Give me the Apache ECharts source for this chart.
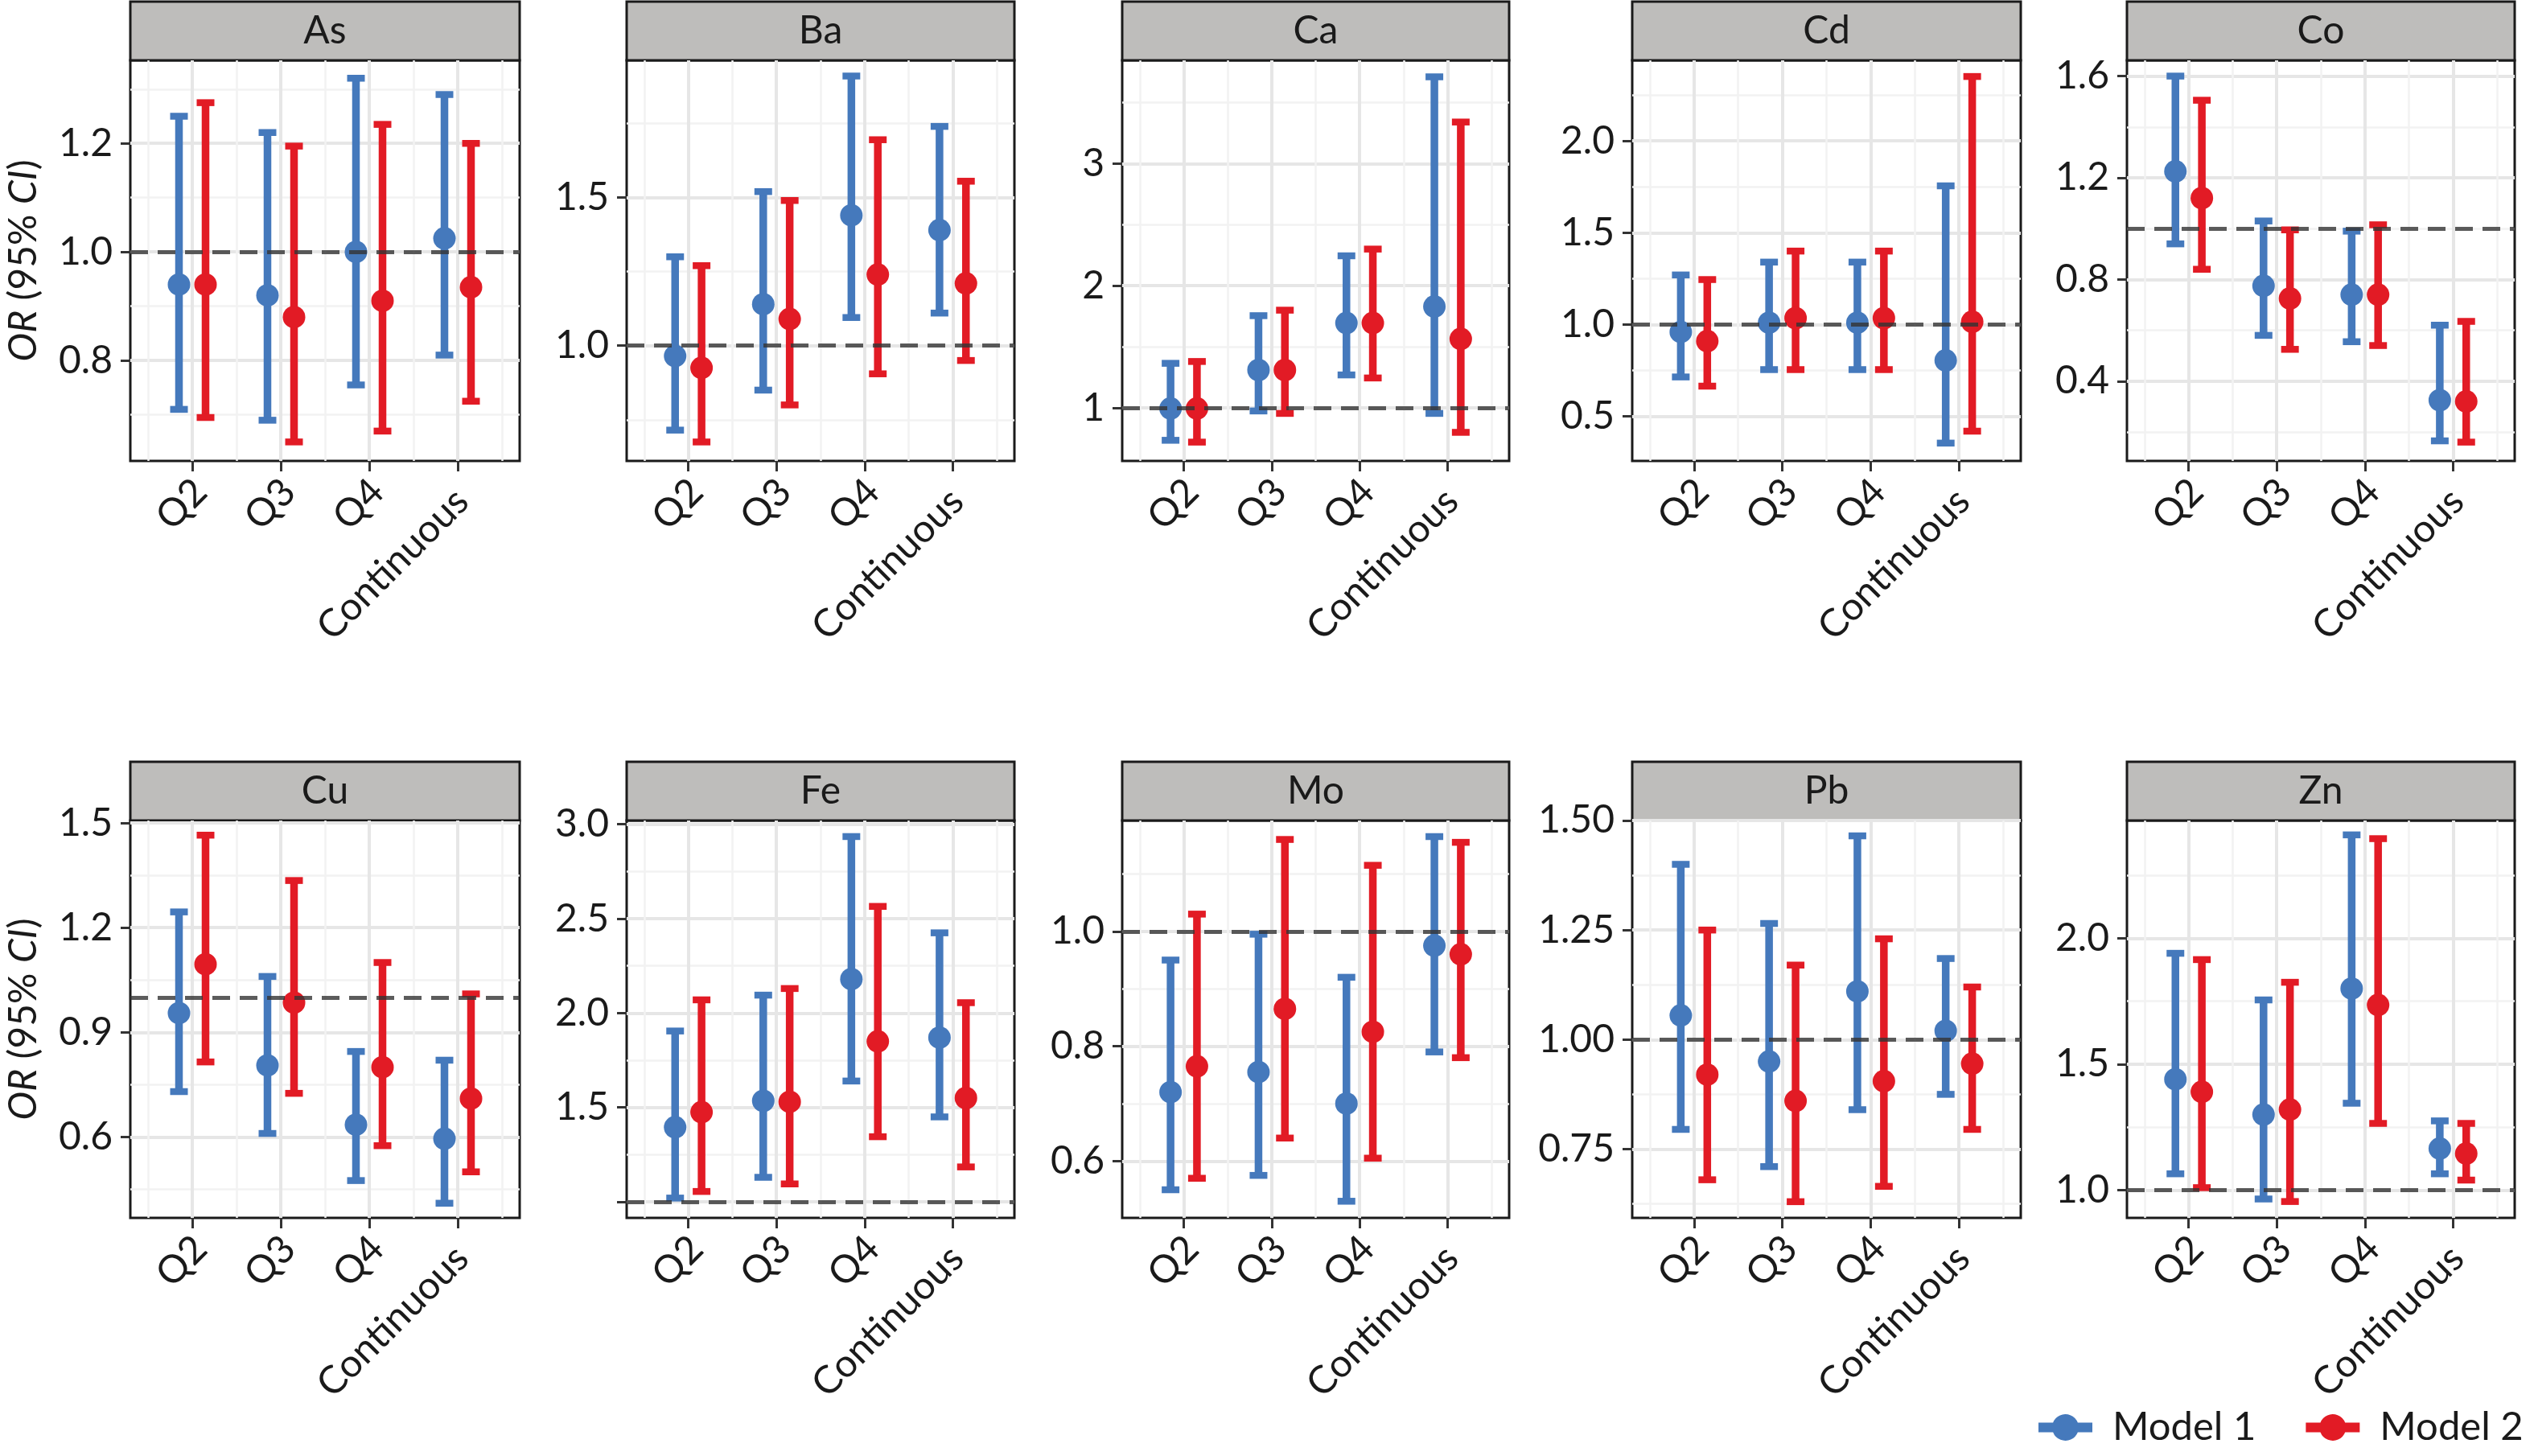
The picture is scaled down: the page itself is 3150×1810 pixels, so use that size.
<!DOCTYPE html>
<html>
<head>
<meta charset="utf-8">
<title>OR (95% CI)</title>
<script src="https://cdn.jsdelivr.net/npm/echarts@6/dist/echarts.min.js"></script>
<style>body{margin:0;background:#fff}</style>
</head>
<body>
<div id="main" style="width:3150px;height:1810px"></div>
<script>
// categories on the x axis
var categories = ['Q2', 'Q3', 'Q4', 'Continuous'];
var models = ['Model 1', 'Model 2'];

// each row: [OR, lower, upper] for Q2, Q3, Q4, Continuous
var As_m1 = [[0.94, 0.71, 1.25], [0.92, 0.69, 1.22], [1.00, 0.755, 1.32], [1.025, 0.81, 1.29]];
var As_m2 = [[0.94, 0.695, 1.275], [0.88, 0.65, 1.195], [0.91, 0.67, 1.235], [0.935, 0.725, 1.20]];
var Ba_m1 = [[0.965, 0.715, 1.30], [1.14, 0.85, 1.52], [1.44, 1.095, 1.91], [1.39, 1.11, 1.74]];
var Ba_m2 = [[0.925, 0.675, 1.27], [1.09, 0.80, 1.49], [1.24, 0.905, 1.695], [1.21, 0.95, 1.555]];
var Ca_m1 = [[0.995, 0.735, 1.365], [1.31, 0.975, 1.755], [1.695, 1.27, 2.245], [1.83, 0.955, 3.71]];
var Ca_m2 = [[0.995, 0.72, 1.38], [1.31, 0.955, 1.80], [1.695, 1.245, 2.30], [1.565, 0.80, 3.34]];
var Cd_m1 = [[0.96, 0.715, 1.27], [1.01, 0.755, 1.34], [1.01, 0.755, 1.34], [0.805, 0.355, 1.755]];
var Cd_m2 = [[0.91, 0.665, 1.245], [1.035, 0.755, 1.40], [1.035, 0.755, 1.40], [1.015, 0.42, 2.35]];
var Co_m1 = [[1.225, 0.94, 1.60], [0.775, 0.58, 1.03], [0.74, 0.555, 0.99], [0.325, 0.165, 0.62]];
var Co_m2 = [[1.12, 0.84, 1.505], [0.725, 0.525, 0.995], [0.74, 0.54, 1.015], [0.32, 0.16, 0.635]];
var Cu_m1 = [[0.955, 0.73, 1.245], [0.805, 0.61, 1.06], [0.635, 0.475, 0.845], [0.595, 0.41, 0.82]];
var Cu_m2 = [[1.095, 0.815, 1.465], [0.985, 0.725, 1.335], [0.80, 0.575, 1.10], [0.71, 0.50, 1.01]];
var Fe_m1 = [[1.395, 1.02, 1.905], [1.535, 1.13, 2.095], [2.18, 1.64, 2.935], [1.87, 1.45, 2.425]];
var Fe_m2 = [[1.475, 1.055, 2.07], [1.53, 1.095, 2.13], [1.85, 1.345, 2.565], [1.55, 1.185, 2.055]];
var Mo_m1 = [[0.72, 0.55, 0.95], [0.755, 0.575, 0.995], [0.70, 0.53, 0.92], [0.975, 0.79, 1.165]];
var Mo_m2 = [[0.765, 0.57, 1.03], [0.865, 0.64, 1.16], [0.825, 0.605, 1.115], [0.96, 0.78, 1.155]];
var Pb_m1 = [[1.055, 0.795, 1.40], [0.95, 0.71, 1.265], [1.11, 0.84, 1.465], [1.02, 0.875, 1.185]];
var Pb_m2 = [[0.92, 0.68, 1.25], [0.86, 0.63, 1.17], [0.905, 0.665, 1.23], [0.945, 0.795, 1.12]];
var Zn_m1 = [[1.44, 1.065, 1.94], [1.30, 0.965, 1.755], [1.80, 1.345, 2.41], [1.165, 1.065, 1.275]];
var Zn_m2 = [[1.39, 1.01, 1.915], [1.32, 0.955, 1.825], [1.735, 1.265, 2.395], [1.145, 1.04, 1.265]];

// y tick labels per panel
var As_ticks = [0.8, 1.0, 1.2];
var Ba_ticks = [1.0, 1.5];
var Ca_ticks = [1, 2, 3];
var Cd_ticks = [0.5, 1.0, 1.5, 2.0];
var Co_ticks = [0.4, 0.8, 1.2, 1.6];
var Cu_ticks = [0.6, 0.9, 1.2, 1.5];
var Fe_ticks = [1.5, 2.0, 2.5, 3.0];
var Mo_ticks = [0.6, 0.8, 1.0];
var Pb_ticks = [0.75, 1.00, 1.25, 1.50];
var Zn_ticks = [1.0, 1.5, 2.0];

var panels = [
  {name: 'As', m1: As_m1, m2: As_m2, labels: As_ticks, ticks: As_ticks, minor: [0.7, 0.9, 1.1, 1.3], min: 0.615, max: 1.353, dec: 1},
  {name: 'Ba', m1: Ba_m1, m2: Ba_m2, labels: Ba_ticks, ticks: Ba_ticks, minor: [0.75, 1.25, 1.75], min: 0.611, max: 1.963, dec: 1},
  {name: 'Ca', m1: Ca_m1, m2: Ca_m2, labels: Ca_ticks, ticks: Ca_ticks, minor: [1.5, 2.5, 3.5], min: 0.566, max: 3.845, dec: 0},
  {name: 'Cd', m1: Cd_m1, m2: Cd_m2, labels: Cd_ticks, ticks: Cd_ticks, minor: [0.75, 1.25, 1.75, 2.25], min: 0.258, max: 2.438, dec: 1},
  {name: 'Co', m1: Co_m1, m2: Co_m2, labels: Co_ticks, ticks: Co_ticks, minor: [0.2, 0.6, 1.0, 1.4], min: 0.086, max: 1.662, dec: 1},
  {name: 'Cu', m1: Cu_m1, m2: Cu_m2, labels: Cu_ticks, ticks: Cu_ticks, minor: [0.45, 0.75, 1.05, 1.35], min: 0.368, max: 1.507, dec: 1},
  {name: 'Fe', m1: Fe_m1, m2: Fe_m2, labels: Fe_ticks, ticks: [1.0].concat(Fe_ticks), minor: [1.25, 1.75, 2.25, 2.75], min: 0.915, max: 3.02, dec: 1},
  {name: 'Mo', m1: Mo_m1, m2: Mo_m2, labels: Mo_ticks, ticks: Mo_ticks, minor: [0.7, 0.9, 1.1], min: 0.501, max: 1.193, dec: 1},
  {name: 'Pb', m1: Pb_m1, m2: Pb_m2, labels: Pb_ticks, ticks: Pb_ticks, minor: [0.625, 0.875, 1.125, 1.375], min: 0.593, max: 1.50, dec: 2},
  {name: 'Zn', m1: Zn_m1, m2: Zn_m2, labels: Zn_ticks, ticks: Zn_ticks, minor: [1.25, 1.75, 2.25], min: 0.89, max: 2.467, dec: 1}
];

var colors = ['#4579BC', '#E21B25'];
var dodge = [-0.15, 0.15];
var font = 'Lato, "Open Sans", sans-serif';
var ink = '#1a1a1a';

// layout of the 2 x 5 facets
var colLeft = [162, 779, 1395, 2029, 2644];
var colWidth = [484, 482, 481, 483, 482];
var rowTop = [75, 1020];
var rowHeight = [498, 494];
var stripH = 73;

var myChart = echarts.init(document.getElementById('main'));

function toData(rows) {
  return rows.map(function (r, k) { return [k + 1, r[1], r[0], r[2]]; });
}

function makeRender(m) {
  return function (params, api) {
    var x = api.value(0) + dodge[m];
    var lo = api.coord([x, api.value(1)]);
    var mid = api.coord([x, api.value(2)]);
    var hi = api.coord([x, api.value(3)]);
    var c = colors[m];
    var half = 11;
    return {
      type: 'group',
      children: [
        {type: 'line', shape: {x1: lo[0], y1: lo[1], x2: hi[0], y2: hi[1]}, style: {stroke: c, lineWidth: 9.5}},
        {type: 'line', shape: {x1: hi[0] - half, y1: hi[1], x2: hi[0] + half, y2: hi[1]}, style: {stroke: c, lineWidth: 8.5}},
        {type: 'line', shape: {x1: lo[0] - half, y1: lo[1], x2: lo[0] + half, y2: lo[1]}, style: {stroke: c, lineWidth: 8.5}},
        {type: 'circle', shape: {cx: mid[0], cy: mid[1], r: 14}, style: {fill: c}}
      ]
    };
  };
}

// rotated category labels: short ones and the long one sit a bit differently
function catLabel(v) {
  var name = categories[Math.round(v) - 1];
  return name.length > 2 ? '{c|' + name + '}' : '{s|' + name + '}';
}

var grids = [], xAxes = [], yAxes = [], series = [], graphics = [];

panels.forEach(function (p, i) {
  var col = i % 5, row = Math.floor(i / 5);
  var left = colLeft[col], top = rowTop[row], w = colWidth[col], h = rowHeight[row];

  grids.push({left: left, top: top, width: w, height: h, show: true,
    backgroundColor: '#fff', borderColor: ink, borderWidth: 3});

  xAxes.push({
    type: 'value', gridIndex: i, min: 0.3, max: 4.7, position: 'bottom',
    axisLine: {show: false},
    axisTick: {show: true, customValues: [1, 2, 3, 4], length: 13, lineStyle: {color: '#333', width: 3}},
    axisLabel: {customValues: [1, 2, 3, 4], rotate: 45, margin: 41, align: 'center', verticalAlign: 'middle',
      fontSize: 48, color: ink, fontFamily: font, formatter: catLabel,
      rich: {
        s: {fontSize: 48, color: ink, fontFamily: font, padding: [0, 37, 0, 0]},
        c: {fontSize: 48, color: ink, fontFamily: font, padding: [10, 238, 0, 0]}
      }},
    splitLine: {show: true, lineStyle: {color: '#E6E6E6', width: 4}}
  });
  xAxes.push({
    type: 'value', gridIndex: i, min: 0.3, max: 4.7, position: 'bottom',
    axisLine: {show: false},
    axisTick: {show: false, customValues: [0.5, 1.5, 2.5, 3.5, 4.5]},
    axisLabel: {show: false},
    splitLine: {show: true, lineStyle: {color: '#F2F2F2', width: 2.5}}
  });

  var yMain = {
    type: 'value', gridIndex: i, min: p.min, max: p.max, position: 'left',
    axisLine: {show: false},
    axisTick: {show: true, customValues: p.ticks, length: 12, lineStyle: {color: '#333', width: 3}},
    axisLabel: {customValues: p.labels, margin: 22, fontSize: 48, color: ink, fontFamily: font,
      formatter: (function (d) { return function (v) { return v.toFixed(d); }; })(p.dec)},
    splitLine: {show: true, lineStyle: {color: '#E6E6E6', width: 4}}
  };
  if (col === 0) {
    yMain.name = '{i|OR} (95% {i|CI})';
    yMain.nameLocation = 'middle';
    yMain.nameGap = 108;
    yMain.nameTextStyle = {fontSize: 48, color: ink, fontFamily: font,
      rich: {i: {fontStyle: 'italic', fontSize: 48, color: ink, fontFamily: font}}};
  }
  yAxes.push(yMain);
  yAxes.push({
    type: 'value', gridIndex: i, min: p.min, max: p.max, position: 'left',
    axisLine: {show: false},
    axisTick: {show: false, customValues: p.minor},
    axisLabel: {show: false},
    splitLine: {show: true, lineStyle: {color: '#F2F2F2', width: 2.5}}
  });

  [p.m1, p.m2].forEach(function (rows, m) {
    series.push({
      type: 'custom', name: models[m], xAxisIndex: 2 * i, yAxisIndex: 2 * i,
      itemStyle: {color: colors[m]}, z: 3, silent: true,
      renderItem: makeRender(m), data: toData(rows)
    });
  });
  series.push({
    type: 'line', xAxisIndex: 2 * i, yAxisIndex: 2 * i, data: [], z: 6, silent: true,
    markLine: {silent: true, symbol: 'none', label: {show: false}, animation: false,
      lineStyle: {type: [22, 12], color: '#333', width: 5, opacity: 0.8},
      data: [{yAxis: 1}]}
  });

  graphics.push({
    type: 'group', children: [
      {type: 'rect', shape: {x: left, y: top - stripH, width: w, height: stripH},
        style: {fill: '#BEBDBB', stroke: ink, lineWidth: 3}},
      {type: 'text', x: left + w / 2, y: top - stripH / 2,
        style: {text: p.name, fontSize: 48, fontFamily: font, fill: ink, align: 'center', verticalAlign: 'middle'}}
    ]
  });
});

var option = {
  backgroundColor: '#fff',
  animation: false,
  grid: grids,
  xAxis: xAxes,
  yAxis: yAxes,
  series: series,
  graphic: graphics,
  legend: {
    data: models, left: 2529, top: 1745, itemWidth: 67, itemHeight: 33, itemGap: 62,
    icon: 'path://M0,10.5H18.13A16.5,16.5,0,0,1,48.87,10.5H67V22.5H48.87A16.5,16.5,0,0,1,18.13,22.5H0Z',
    textStyle: {fontSize: 49, color: ink, fontFamily: font, padding: [0, 0, 0, 20]}
  }
};

myChart.setOption(option);
</script>
</body>
</html>
